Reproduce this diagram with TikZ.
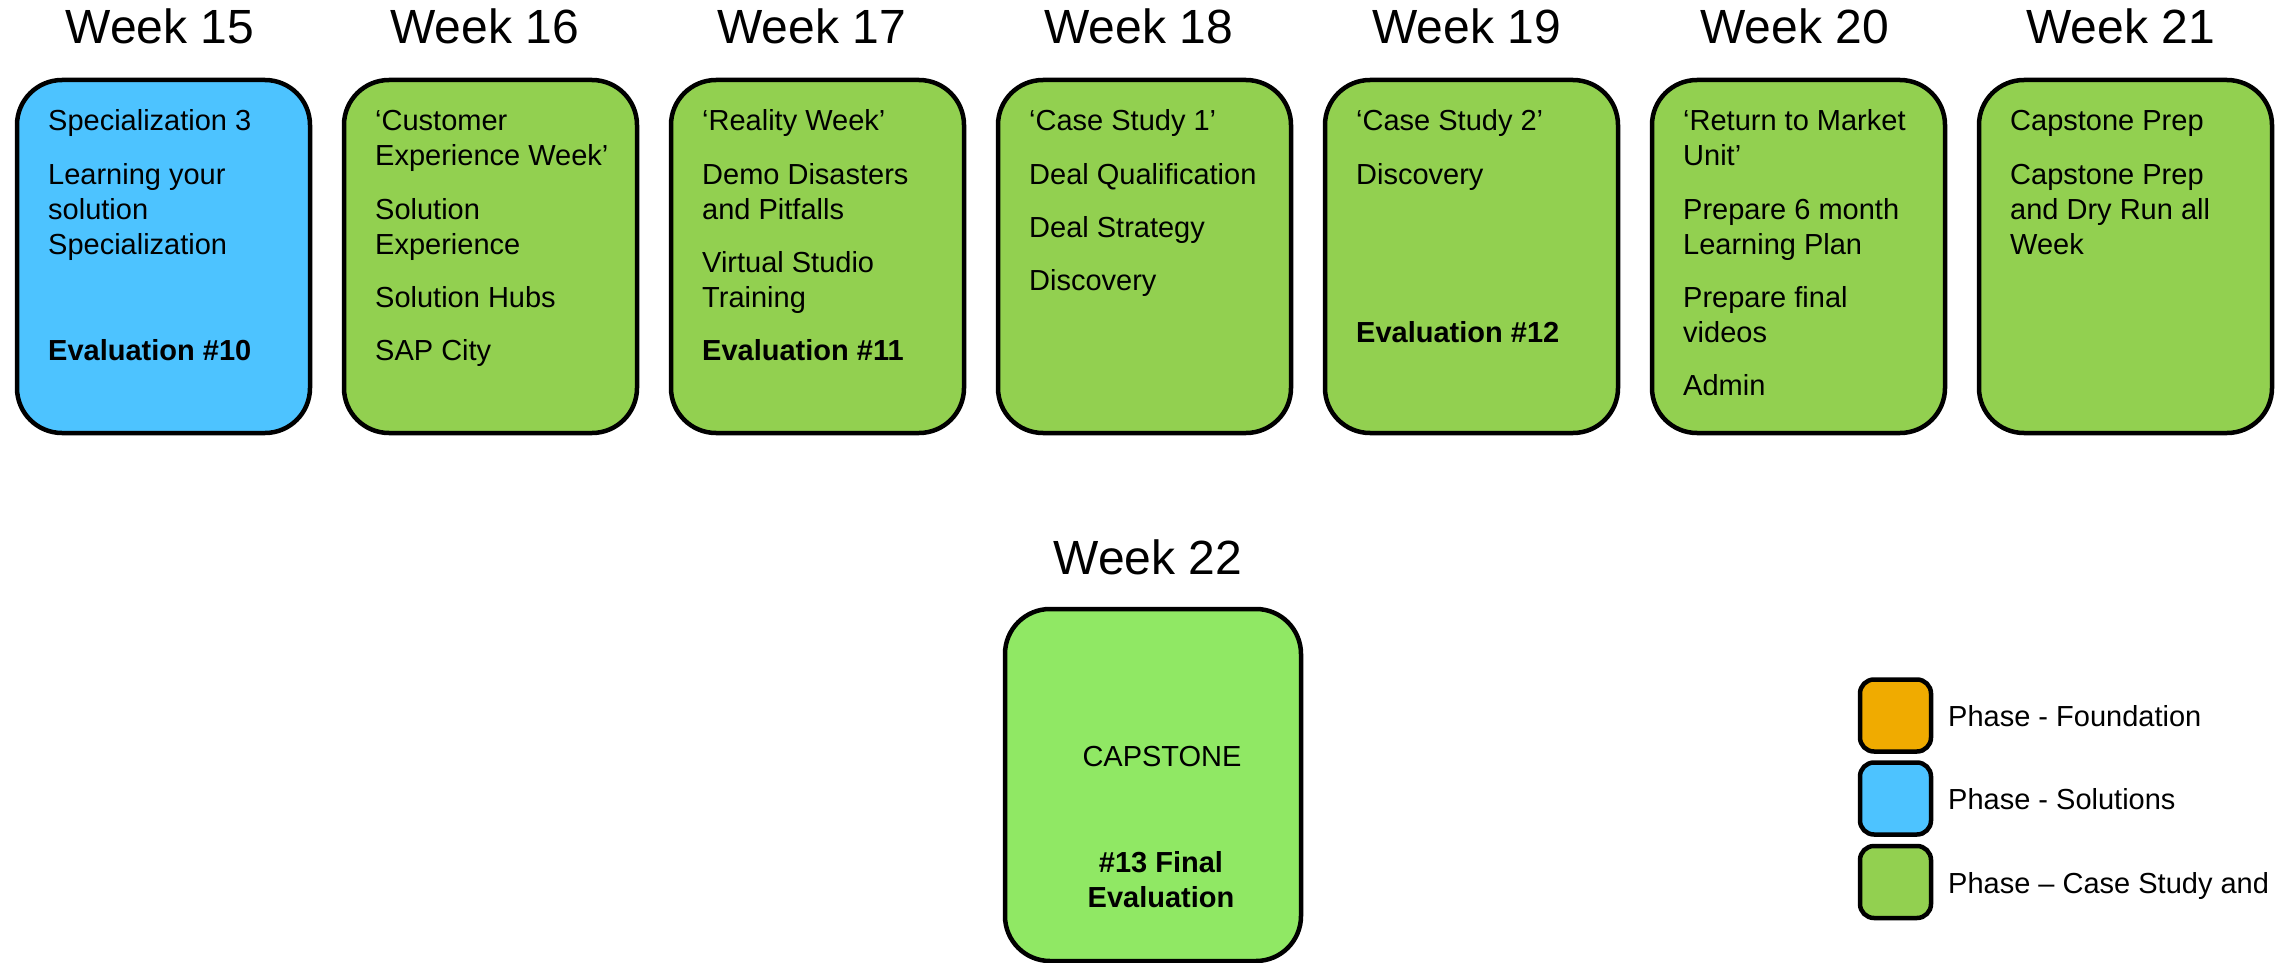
\documentclass[tikz,border=0pt]{standalone}
\usepackage{fontspec}
\setmainfont{Liberation Sans}
\definecolor{solblue}{RGB}{77,195,255}
\definecolor{casegreen}{RGB}{146,208,80}
\definecolor{capgreen}{RGB}{144,232,100}
\definecolor{foundorange}{RGB}{240,171,0}
\tikzset{
  weekbox/.style={draw=black, line width=4.5pt, rounded corners=45pt, minimum width=293pt, minimum height=353pt, inner sep=0pt},
  legbox/.style={draw=black, line width=4.5pt, rounded corners=14pt, minimum width=71pt, minimum height=72pt, inner sep=0pt},
  title/.style={anchor=base, inner sep=0pt, font=\fontsize{48}{57}\selectfont},
  body/.style={anchor=base west, inner sep=0pt, font=\fontsize{29}{35}\selectfont},
  bodyb/.style={body, font=\fontsize{29}{35}\selectfont\bfseries},
}
\begin{document}
\begin{tikzpicture}[x=1pt,y=-1pt]
\useasboundingbox (0,0) rectangle (2276,963);
% titles
\node[title] (w15) at (160,44) {Week 15};
\node[title] (w16) at (484.5,44) {Week 16};
\node[title] (w17) at (811.5,44) {Week 17};
\node[title] (w18) at (1138.5,44) {Week 18};
\node[title] (w19) at (1466.5,44) {Week 19};
\node[title] (w20) at (1794.5,44) {Week 20};
\node[title] (w21) at (2120.5,44) {Week 21};
\node[title] (w22) at (1148,574) {Week 22};
% boxes
\node[weekbox, fill=solblue]   (b15) at (163.5,256.5) {};
\node[weekbox, fill=casegreen] (b16) at (490.5,256.5) {};
\node[weekbox, fill=casegreen] (b17) at (817.5,256.5) {};
\node[weekbox, fill=casegreen] (b18) at (1144.5,256.5) {};
\node[weekbox, fill=casegreen] (b19) at (1471.5,256.5) {};
\node[weekbox, fill=casegreen] (b20) at (1798.5,256.5) {};
\node[weekbox, fill=casegreen] (b21) at (2125.5,256.5) {};
\node[weekbox, fill=capgreen, minimum width=296pt, minimum height=352pt] (b22) at (1153,785) {};
% week 15
\node[body] (t15a) at (48,131) {Specialization 3};
\node[body] (t15b) at (48,184) {Learning your};
\node[body] (t15c) at (48,219) {solution};
\node[body] (t15d) at (48,254) {Specialization};
\node[bodyb] (t15e) at (48,360) {Evaluation \#10};
% week 16
\node[body] (t16a) at (375,131) {‘Customer};
\node[body] (t16b) at (375,166) {Experience Week’};
\node[body] (t16c) at (375,219) {Solution};
\node[body] (t16d) at (375,254) {Experience};
\node[body] (t16e) at (375,307) {Solution Hubs};
\node[body] (t16f) at (375,360) {SAP City};
% week 17
\node[body] (t17a) at (702,131) {‘Reality Week’};
\node[body] (t17b) at (702,184) {Demo Disasters};
\node[body] (t17c) at (702,219) {and Pitfalls};
\node[body] (t17d) at (702,272) {Virtual Studio};
\node[body] (t17e) at (702,307) {Training};
\node[bodyb] (t17f) at (702,360) {Evaluation \#11};
% week 18
\node[body] (t18a) at (1029,131) {‘Case Study 1’};
\node[body] (t18b) at (1029,184) {Deal Qualification};
\node[body] (t18c) at (1029,237) {Deal Strategy};
\node[body] (t18d) at (1029,290) {Discovery};
% week 19
\node[body] (t19a) at (1356,131) {‘Case Study 2’};
\node[body] (t19b) at (1356,184) {Discovery};
\node[bodyb] (t19c) at (1356,342) {Evaluation \#12};
% week 20
\node[body] (t20a) at (1683,131) {‘Return to Market};
\node[body] (t20b) at (1683,166) {Unit’};
\node[body] (t20c) at (1683,219) {Prepare 6 month};
\node[body] (t20d) at (1683,254) {Learning Plan};
\node[body] (t20e) at (1683,307) {Prepare final};
\node[body] (t20f) at (1683,342) {videos};
\node[body] (t20g) at (1683,395) {Admin};
% week 21
\node[body] (t21a) at (2010,131) {Capstone Prep};
\node[body] (t21b) at (2010,184) {Capstone Prep};
\node[body] (t21c) at (2010,219) {and Dry Run all};
\node[body] (t21d) at (2010,254) {Week};
% week 22
\node[body, anchor=base] (t22a) at (1162,766) {CAPSTONE};
\node[bodyb, anchor=base] (t22b) at (1161,872) {\#13 Final};
\node[bodyb, anchor=base] (t22c) at (1161,907) {Evaluation};
% legend
\node[legbox, fill=foundorange] (lg1) at (1895.5,715.5) {};
\node[legbox, fill=solblue]     (lg2) at (1895.5,798.5) {};
\node[legbox, fill=casegreen]   (lg3) at (1895.5,882) {};
\node[body] (lt1) at (1948,726) {Phase - Foundation};
\node[body] (lt2) at (1948,809) {Phase - Solutions};
\node[body] (lt3) at (1948,893) {Phase -- Case Study and};
\end{tikzpicture}
\end{document}
